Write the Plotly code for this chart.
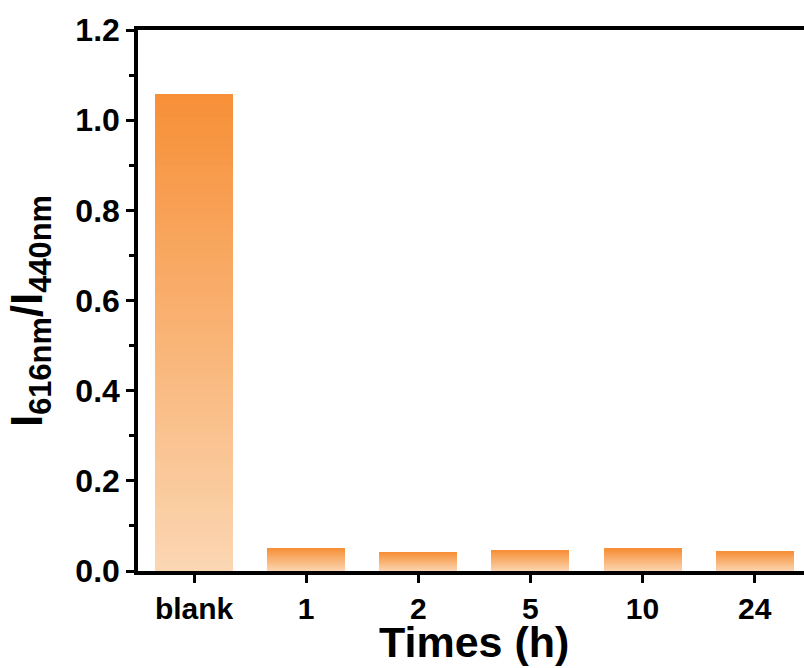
import plotly.graph_objects as go

categories = ["blank", "1", "2", "5", "10", "24"]
values = [1.057, 0.051, 0.042, 0.046, 0.049, 0.044]
y_ticks = [0.0, 0.2, 0.4, 0.6, 0.8, 1.0, 1.2]
y_ticktext = ["0.0", "0.2", "0.4", "0.6", "0.8", "1.0", "1.2"]
y_minor = [0.1, 0.3, 0.5, 0.7, 0.9, 1.1]

top_rgb = (247, 144, 56)
bottom_rgb = (251, 214, 178)
N = 60

fig = go.Figure()
xs = list(range(len(categories)))
for k in range(N):
    t = k / (N - 1)
    c = tuple(round(bottom_rgb[i] + (top_rgb[i] - bottom_rgb[i]) * t) for i in range(3))
    fig.add_trace(go.Bar(
        x=xs, y=[v / N for v in values], width=0.695,
        marker=dict(color=f"rgb{c}", line=dict(width=0)),
        showlegend=False, hoverinfo="skip",
    ))

font = dict(family="Liberation Sans, Arial", color="black", weight="bold")
fig.update_layout(
    width=804, height=668, barmode="stack", bargap=0,
    margin=dict(l=138, r=0, t=30, b=97),
    plot_bgcolor="white", paper_bgcolor="white",
    font=font,
)
fig.update_xaxes(
    range=[-0.5, 5.44], tickmode="array", tickvals=xs, ticktext=categories,
    ticks="outside", ticklen=8, tickwidth=3, tickcolor="black",
    showline=True, linewidth=3.5, linecolor="black", mirror=True,
    showgrid=False, zeroline=False,
    tickfont=dict(size=30, **font),
)
fig.update_yaxes(
    range=[0, 1.2], tickmode="array", tickvals=y_ticks, ticktext=y_ticktext,
    ticks="outside", ticklen=8, tickwidth=3, tickcolor="black",
    minor=dict(tickvals=y_minor, ticks="outside", ticklen=5, tickwidth=2.5, tickcolor="black"),
    showline=True, linewidth=3.5, linecolor="black",
    showgrid=False, zeroline=False,
    tickfont=dict(size=32, **font),
)
fig.add_annotation(
    text="Times (h)", xref="paper", yref="paper", x=(474 - 138) / 666, y=-0.132,
    xanchor="center", yanchor="middle", showarrow=False,
    font=dict(size=43, **font),
)
fig.add_annotation(
    text="I<sub>616nm</sub>/I<sub>440nm</sub>", xref="paper", yref="paper",
    x=(30 - 138) / 666, y=(571 - 311) / 541, xanchor="center", yanchor="middle", textangle=-90,
    showarrow=False, font=dict(size=44, **font),
)
fig.write_html("out.html")
